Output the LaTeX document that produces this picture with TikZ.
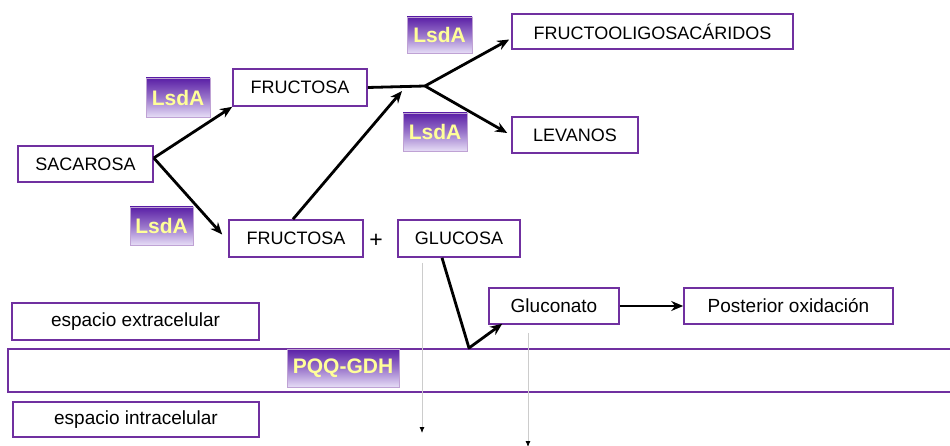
\documentclass[tikz,border=0pt]{standalone}
\usepackage{fontspec}
\setmainfont{Liberation Sans}
\usepackage{xcolor}
\usepackage{tikz}
\usetikzlibrary{positioning, arrows.meta, calc}
\definecolor{boxpurple}{HTML}{7030A0}
\definecolor{enzdark}{HTML}{5A1FA6}
\definecolor{enzlight}{HTML}{E6DDF6}
\definecolor{enztext}{HTML}{FFFF99}
\definecolor{guide}{HTML}{CCCCCC}

\tikzset{
  caja/.style={draw=boxpurple, line width=1.6pt, fill=white, inner sep=0pt,
               font=\fontsize{18}{20}\selectfont},
  cajamin/.style={caja, font=\fontsize{19}{21}\selectfont},
  enzima/.style={draw=boxpurple!45, line width=0.6pt, top color=enzdark,
                 bottom color=enzlight, middle color=enzdark!55!enzlight,
                 text=enztext, inner sep=0pt,
                 font=\bfseries\fontsize{21}{24}\selectfont},
  flecha/.style={line width=2.8pt, -{Stealth[length=12pt,width=10pt]}},
  guia/.style={draw=guide, line width=0.8pt, -{Latex[black,length=6pt,width=5pt]}}
}

\begin{document}
\begin{tikzpicture}[x=1pt, y=-1pt]
  \useasboundingbox (0,0) rectangle (950,446);

  % membrane band
  \draw[boxpurple, line width=1.6pt, fill=white] (8,349) rectangle (956,392);

  % compounds
  \node[caja, minimum width=135pt, minimum height=36pt] (sacarosa) at (85.5,164) {SACAROSA};
  \node[caja, minimum width=134pt, minimum height=37pt] (fructosaA) at (300,87.5) {FRUCTOSA};
  \node[caja, minimum width=134pt, minimum height=37pt] (fructosaB) at (296,238.5) {FRUCTOSA};
  \node[font=\fontsize{23}{24}\selectfont] (mas) at (376,241) {+};
  \node[caja, minimum width=122pt, minimum height=37pt] (glucosa) at (459,238.5) {GLUCOSA};
  \node[caja, minimum width=281pt, minimum height=35pt] (fos) at (652.5,31.5) {FRUCTOOLIGOSACÁRIDOS};
  \node[caja, minimum width=126pt, minimum height=36pt] (levanos) at (575,135) {LEVANOS};
  \node[cajamin, minimum width=130pt, minimum height=36pt] (gluconato) at (554,306) {Gluconato};
  \node[cajamin, minimum width=209pt, minimum height=36pt] (posterior) at (788.5,306) {Posterior oxidación};

  % compartments
  \node[cajamin, minimum width=247pt, minimum height=37pt] (extra) at (135.5,321.5) {espacio extracelular};
  \node[cajamin, minimum width=246pt, minimum height=35pt] (intra) at (136,419.5) {espacio intracelular};

  % enzymes
  \node[enzima, minimum width=64pt, minimum height=39pt] (lsdA) at (178,97.5) {LsdA};
  \node[enzima, minimum width=63pt, minimum height=38pt] (lsdB) at (161.5,226) {LsdA};
  \node[enzima, minimum width=65pt, minimum height=36pt] (lsdC) at (439.5,35) {LsdA};
  \node[enzima, minimum width=64pt, minimum height=38pt] (lsdD) at (435,132) {LsdA};
  \node[enzima, minimum width=112pt, minimum height=38pt] (pqq) at (343,368) {PQQ-GDH};

  \coordinate (union) at (425,86);
  \coordinate (llegada) at (402,91);
  \coordinate (oxida) at (469,348);
  \coordinate (bajadaA) at (422,433);
  \coordinate (bajadaB) at (528,447);

  % reactions
  \draw[flecha] ([yshift=6pt]sacarosa.east) -- (fructosaA.south west);
  \draw[flecha] ([yshift=6pt]sacarosa.east) -- ([xshift=-6pt,yshift=4pt]fructosaB.west);
  \draw[flecha] ([xshift=-3pt]fructosaB.north) -- (llegada);
  \draw[line width=2.8pt] (fructosaA.east) -- (union);
  \draw[flecha] (union) -- ([xshift=-2pt,yshift=-8pt]fos.west);
  \draw[flecha] (union) -- ([xshift=-4pt,yshift=2pt]levanos.west);
  \draw[flecha, line join=round] ([xshift=-17pt]glucosa.south) -- (oxida) -- ([xshift=14pt,yshift=1pt]gluconato.south west);
  \draw[flecha] (gluconato.east) -- (posterior.west);

  % transport
  \draw[guia] ([xshift=-37pt,yshift=-5pt]glucosa.south) -- (bajadaA);
  \draw[guia] ([xshift=-26pt,yshift=-8pt]gluconato.south) -- (bajadaB);
\end{tikzpicture}
\end{document}
